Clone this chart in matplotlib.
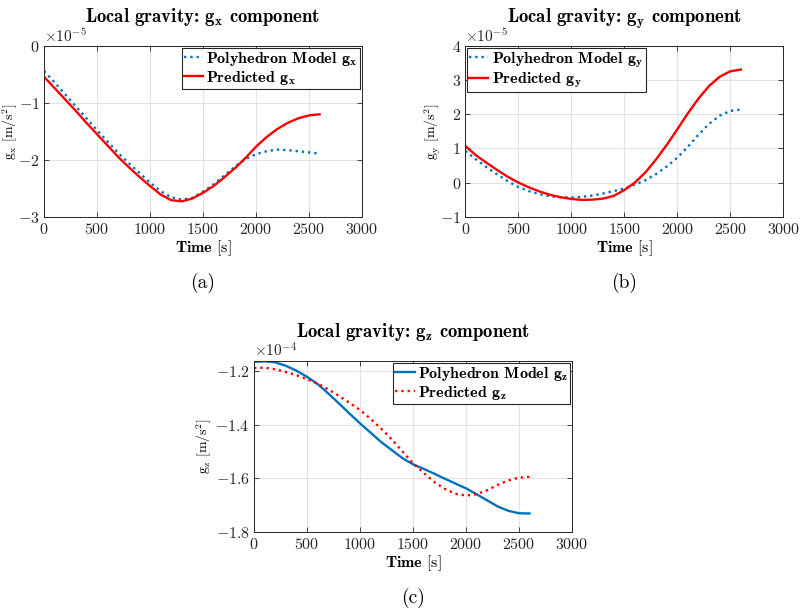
import numpy as np
import matplotlib
matplotlib.use('Agg')
import matplotlib.pyplot as plt

# --- DATA ---
t = np.arange(0, 2601, 100)

# (a) g_x  [x 1e-5 m/s^2]
gx_poly = [-0.44, -0.64, -0.85, -1.06, -1.27, -1.48, -1.68, -1.88, -2.06, -2.23,
           -2.40, -2.55, -2.66, -2.70, -2.67, -2.56, -2.43, -2.28, -2.12, -1.99,
           -1.90, -1.85, -1.82, -1.83, -1.85, -1.87, -1.89]
gx_pred = [-0.54, -0.74, -0.94, -1.14, -1.35, -1.55, -1.75, -1.95, -2.13, -2.30,
           -2.46, -2.61, -2.71, -2.73, -2.68, -2.58, -2.46, -2.31, -2.15, -1.97,
           -1.77, -1.60, -1.46, -1.35, -1.27, -1.22, -1.20]

# (b) g_y  [x 1e-5 m/s^2]
gy_poly = [0.93, 0.68, 0.45, 0.24, 0.04, -0.13, -0.25, -0.34, -0.40, -0.43,
           -0.44, -0.42, -0.38, -0.32, -0.25, -0.17, -0.06, 0.07, 0.25, 0.47,
           0.73, 1.05, 1.40, 1.72, 1.96, 2.10, 2.14]
gy_pred = [1.07, 0.80, 0.58, 0.37, 0.17, 0.00, -0.14, -0.26, -0.36, -0.43,
           -0.48, -0.51, -0.50, -0.47, -0.39, -0.22, 0.00, 0.30, 0.68, 1.10,
           1.56, 2.03, 2.46, 2.83, 3.10, 3.26, 3.31]

# (c) g_z  [x 1e-4 m/s^2]
gz_poly = [-1.165, -1.163, -1.167, -1.180, -1.198, -1.221, -1.248, -1.283, -1.320, -1.358,
           -1.395, -1.430, -1.465, -1.495, -1.525, -1.548, -1.565, -1.583, -1.602, -1.620,
           -1.638, -1.660, -1.683, -1.706, -1.722, -1.731, -1.732]
gz_pred = [-1.188, -1.187, -1.193, -1.203, -1.215, -1.230, -1.247, -1.268, -1.292, -1.318,
           -1.345, -1.378, -1.415, -1.455, -1.500, -1.545, -1.580, -1.614, -1.640, -1.658,
           -1.665, -1.660, -1.645, -1.625, -1.608, -1.598, -1.595]

BLUE = '#0072BD'
RED = '#FF0000'

plt.rcParams['font.family'] = 'serif'
plt.rcParams['font.serif'] = ['cmr10']
plt.rcParams['mathtext.fontset'] = 'cm'
plt.rcParams['axes.formatter.use_mathtext'] = True
plt.rcParams['font.size'] = 11

fig = plt.figure(figsize=(8.01, 6.14), dpi=100)

W = 318 / 801
H = 170.7 / 614
ax_a = fig.add_axes([44 / 801, 1 - 216.7 / 614, W, H])
ax_b = fig.add_axes([465.3 / 801, 1 - 216.7 / 614, W, H])
ax_c = fig.add_axes([254 / 801, 1 - 531.7 / 614, W, H])

panels = [
    (ax_a, 'x', np.array(gx_poly) * 1e-5, np.array(gx_pred) * 1e-5, ':', '-',
     (-3e-5, 0), [-3e-5, -2e-5, -1e-5, 0], 'upper right', '(a)', -0.074),
    (ax_b, 'y', np.array(gy_poly) * 1e-5, np.array(gy_pred) * 1e-5, ':', '-',
     (-1e-5, 4e-5), [-1e-5, 0, 1e-5, 2e-5, 3e-5, 4e-5], 'upper left', '(b)', -0.072),
    (ax_c, 'z', np.array(gz_poly) * 1e-4, np.array(gz_pred) * 1e-4, '-', ':',
     (-1.8e-4, -1.162e-4), [-1.8e-4, -1.6e-4, -1.4e-4, -1.2e-4], 'upper right', '(c)', -0.125),
]

for ax, comp, poly, pred, ls_poly, ls_pred, ylim, yticks, loc, cap, ylx in panels:
    sub = r'$\mathbf{g}_\mathbf{' + comp + '}$'
    ax.plot(t, poly, color=BLUE, linestyle=ls_poly, linewidth=1.7,
            label='Polyhedron Model ' + sub)
    ax.plot(t, pred, color=RED, linestyle=ls_pred, linewidth=1.7,
            label='Predicted ' + sub)

    ax.set_xlim(0, 3000)
    ax.set_xticks([0, 500, 1000, 1500, 2000, 2500, 3000])
    ax.set_ylim(*ylim)
    ax.set_yticks(yticks)
    ax.ticklabel_format(axis='y', style='sci', scilimits=(0, 0), useMathText=True)

    ax.grid(True, color='#e3e3e3', linewidth=0.8)
    ax.set_axisbelow(True)
    ax.tick_params(direction='in', top=True, right=True, length=3.5,
                   width=0.6, colors='#262626', labelsize=11.5, pad=4)
    ax.tick_params(axis='y', pad=3)
    for sp in ax.spines.values():
        sp.set_color('#262626')
        sp.set_linewidth(0.7)

    ax.set_title('Local gravity: ' + sub + ' component', fontfamily='cmb10',
                 fontsize=13.5, y=1.0, pad=17)
    ax.set_xlabel(r'$\mathbf{Time}$ [s]', fontsize=11.5, labelpad=1)
    ax.set_ylabel(r'$\mathrm{g_' + comp + '}$ [m/s$^2$]', fontsize=10)
    ax.yaxis.set_label_coords(ylx, 0.5)

    leg = ax.legend(loc=loc, prop={'family': 'cmb10', 'size': 11.5},
                    handlelength=1.2, handletextpad=0.2, borderpad=0.15,
                    labelspacing=0.05, borderaxespad=0.1, fancybox=False,
                    framealpha=1, edgecolor='#262626')
    leg.get_frame().set_linewidth(0.8)

    ax.text(0.5, -0.39, cap, transform=ax.transAxes, ha='center', va='center',
            fontsize=14)

fig.savefig('out.png', dpi=100)
